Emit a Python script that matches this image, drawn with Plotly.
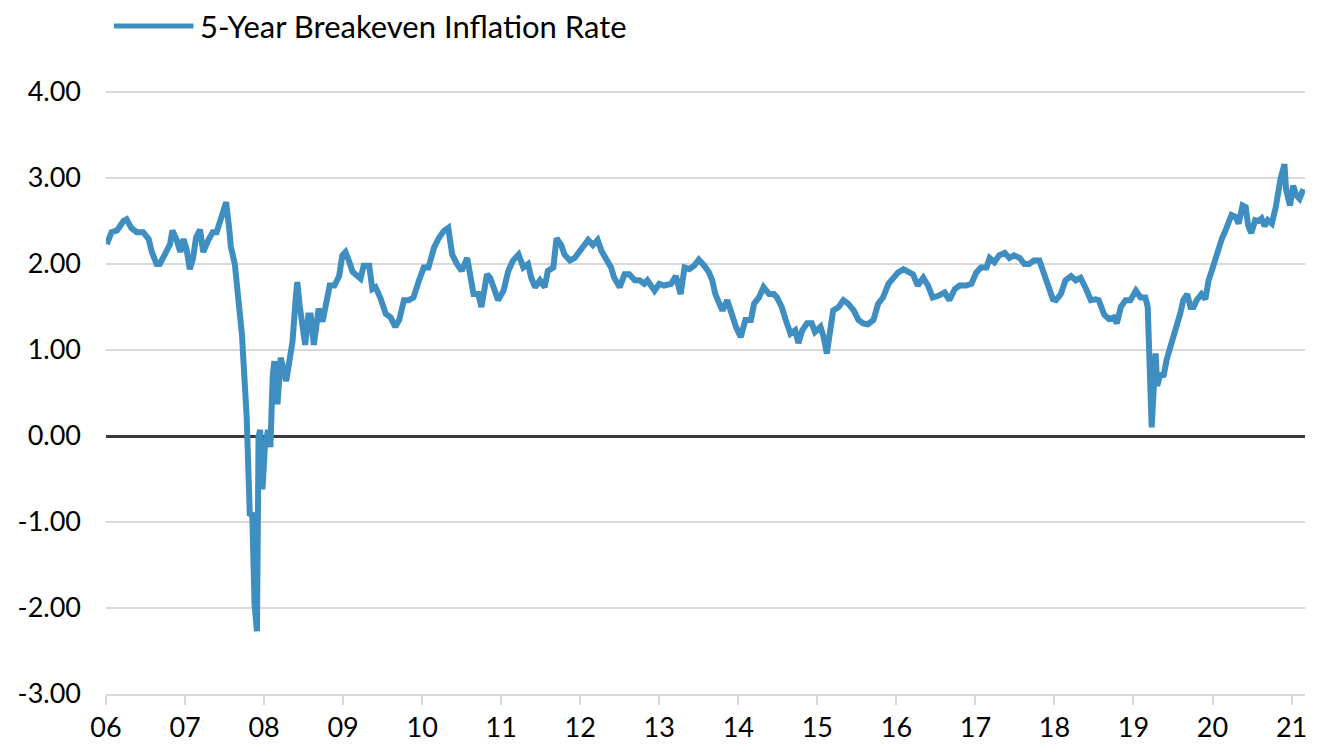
import plotly.graph_objects as go

# Decimal year positions (as labelled on the chart's axis) and 5-year breakeven values (%)
years = [
    2006.01, 2006.07, 2006.14, 2006.22, 2006.26, 2006.32, 2006.39, 2006.47, 2006.54, 2006.58,
    2006.64, 2006.68, 2006.75, 2006.81, 2006.84, 2006.89, 2006.94, 2006.98, 2007.02, 2007.06,
    2007.10, 2007.14, 2007.19, 2007.23, 2007.29, 2007.35, 2007.40, 2007.46, 2007.50, 2007.52,
    2007.56, 2007.58, 2007.63, 2007.66, 2007.69, 2007.72, 2007.75, 2007.78, 2007.82, 2007.85,
    2007.88, 2007.91, 2007.93, 2007.95, 2007.98, 2008.01, 2008.05, 2008.08, 2008.11, 2008.13,
    2008.17, 2008.21, 2008.28, 2008.32, 2008.36, 2008.40, 2008.42, 2008.45, 2008.49, 2008.52,
    2008.56, 2008.59, 2008.63, 2008.69, 2008.74, 2008.78, 2008.83, 2008.89, 2008.95, 2008.99,
    2009.03, 2009.08, 2009.12, 2009.18, 2009.22, 2009.26, 2009.33, 2009.37, 2009.41, 2009.47,
    2009.54, 2009.60, 2009.66, 2009.71, 2009.77, 2009.83, 2009.89, 2009.96, 2010.02, 2010.08,
    2010.15, 2010.21, 2010.27, 2010.33, 2010.38, 2010.44, 2010.50, 2010.57, 2010.61, 2010.65,
    2010.71, 2010.75, 2010.82, 2010.86, 2010.92, 2010.96, 2011.03, 2011.09, 2011.15, 2011.22,
    2011.28, 2011.34, 2011.38, 2011.43, 2011.49, 2011.55, 2011.59, 2011.66, 2011.70, 2011.76,
    2011.80, 2011.87, 2011.93, 2011.99, 2012.06, 2012.10, 2012.16, 2012.22, 2012.27, 2012.33,
    2012.39, 2012.43, 2012.50, 2012.56, 2012.62, 2012.69, 2012.75, 2012.81, 2012.85, 2012.94,
    2013.00, 2013.06, 2013.15, 2013.21, 2013.27, 2013.32, 2013.38, 2013.44, 2013.50, 2013.57,
    2013.63, 2013.67, 2013.71, 2013.76, 2013.80, 2013.86, 2013.90, 2013.97, 2014.03, 2014.09,
    2014.16, 2014.20, 2014.26, 2014.32, 2014.39, 2014.45, 2014.49, 2014.55, 2014.60, 2014.66,
    2014.72, 2014.76, 2014.81, 2014.87, 2014.93, 2014.97, 2015.04, 2015.08, 2015.12, 2015.16,
    2015.20, 2015.27, 2015.33, 2015.39, 2015.46, 2015.52, 2015.58, 2015.64, 2015.71, 2015.77,
    2015.83, 2015.90, 2015.96, 2016.02, 2016.09, 2016.15, 2016.21, 2016.27, 2016.34, 2016.40,
    2016.46, 2016.53, 2016.61, 2016.67, 2016.74, 2016.80, 2016.88, 2016.95, 2017.01, 2017.07,
    2017.14, 2017.18, 2017.24, 2017.30, 2017.37, 2017.43, 2017.49, 2017.56, 2017.62, 2017.68,
    2017.74, 2017.81, 2017.85, 2017.89, 2017.93, 2017.98, 2018.02, 2018.08, 2018.14, 2018.21,
    2018.27, 2018.33, 2018.40, 2018.46, 2018.52, 2018.56, 2018.63, 2018.69, 2018.75, 2018.79,
    2018.84, 2018.90, 2018.96, 2019.03, 2019.09, 2019.15, 2019.18, 2019.21, 2019.23, 2019.28,
    2019.30, 2019.34, 2019.38, 2019.42, 2019.47, 2019.51, 2019.55, 2019.59, 2019.63, 2019.68,
    2019.72, 2019.76, 2019.80, 2019.86, 2019.91, 2019.95, 2019.99, 2020.03, 2020.07, 2020.12,
    2020.16, 2020.20, 2020.24, 2020.29, 2020.33, 2020.38, 2020.42, 2020.45, 2020.49, 2020.54,
    2020.58, 2020.62, 2020.66, 2020.70, 2020.75, 2020.80, 2020.83, 2020.86, 2020.91, 2020.93,
    2020.98, 2021.02, 2021.06, 2021.10, 2021.15,
]

breakeven = [
    2.23, 2.37, 2.39, 2.50, 2.52, 2.42, 2.37, 2.37, 2.29, 2.14,
    2.00, 2.00, 2.12, 2.23, 2.39, 2.29, 2.14, 2.29, 2.17, 1.94,
    2.06, 2.31, 2.40, 2.14, 2.27, 2.37, 2.37, 2.52, 2.66, 2.72,
    2.40, 2.20, 2.00, 1.79, 1.45, 1.18, 0.64, 0.22, -0.93, -0.89,
    -1.97, -2.27, -0.01, 0.07, -0.62, -0.13, 0.07, -0.13, 0.71, 0.87,
    0.37, 0.91, 0.64, 0.94, 1.10, 1.60, 1.79, 1.52, 1.25, 1.06,
    1.40, 1.40, 1.06, 1.48, 1.33, 1.52, 1.75, 1.75, 1.86, 2.10,
    2.14, 2.02, 1.91, 1.86, 1.83, 1.98, 1.98, 1.71, 1.73, 1.61,
    1.42, 1.38, 1.27, 1.35, 1.58, 1.58, 1.61, 1.81, 1.96, 1.96,
    2.19, 2.30, 2.38, 2.42, 2.11, 2.00, 1.92, 2.07, 1.84, 1.65,
    1.65, 1.50, 1.88, 1.84, 1.69, 1.58, 1.69, 1.92, 2.04, 2.11,
    1.96, 2.00, 1.84, 1.73, 1.81, 1.73, 1.92, 1.96, 2.30, 2.22,
    2.11, 2.04, 2.07, 2.15, 2.22, 2.28, 2.22, 2.28, 2.15, 2.04,
    1.96, 1.84, 1.73, 1.88, 1.88, 1.81, 1.81, 1.77, 1.81, 1.69,
    1.77, 1.75, 1.77, 1.86, 1.65, 1.96, 1.94, 1.98, 2.05, 1.98,
    1.90, 1.81, 1.65, 1.54, 1.46, 1.58, 1.46, 1.27, 1.15, 1.35,
    1.35, 1.54, 1.61, 1.73, 1.65, 1.65, 1.61, 1.50, 1.35, 1.19,
    1.23, 1.08, 1.23, 1.31, 1.31, 1.21, 1.27, 1.15, 0.96, 1.23,
    1.46, 1.50, 1.58, 1.54, 1.46, 1.35, 1.31, 1.30, 1.35, 1.54,
    1.61, 1.77, 1.84, 1.90, 1.94, 1.90, 1.88, 1.75, 1.84, 1.75,
    1.61, 1.63, 1.67, 1.58, 1.71, 1.75, 1.75, 1.77, 1.90, 1.96,
    1.96, 2.07, 2.02, 2.10, 2.13, 2.07, 2.10, 2.07, 2.00, 2.00,
    2.04, 2.04, 1.94, 1.82, 1.73, 1.59, 1.58, 1.65, 1.81, 1.86,
    1.81, 1.84, 1.71, 1.58, 1.59, 1.58, 1.41, 1.36, 1.38, 1.31,
    1.50, 1.58, 1.58, 1.69, 1.61, 1.61, 1.50, 0.50, 0.10, 0.96,
    0.58, 0.73, 0.69, 0.89, 1.04, 1.19, 1.31, 1.42, 1.58, 1.65,
    1.50, 1.50, 1.58, 1.65, 1.59, 1.81, 1.92, 2.04, 2.17, 2.30,
    2.38, 2.50, 2.57, 2.55, 2.47, 2.68, 2.66, 2.45, 2.36, 2.51,
    2.50, 2.53, 2.44, 2.51, 2.47, 2.66, 2.84, 2.99, 3.16, 2.87,
    2.68, 2.91, 2.80, 2.76, 2.87,
]

x_tick_years = list(range(2006, 2022))
x_tick_labels = ["06", "07", "08", "09", "10", "11", "12", "13",
                 "14", "15", "16", "17", "18", "19", "20", "21"]
y_tick_values = [-3, -2, -1, 0, 1, 2, 3, 4]
y_tick_labels = ["-3.00", "-2.00", "-1.00", "0.00", "1.00", "2.00", "3.00", "4.00"]

series_name = "5-Year Breakeven Inflation Rate"
line_color = "#3E8EC2"
font_family = "Lato, 'Liberation Sans', sans-serif"

fig = go.Figure()
fig.add_trace(go.Scatter(
    x=years, y=breakeven, mode="lines", name=series_name,
    line=dict(color=line_color, width=6), showlegend=False,
))

# Legend drawn as a long sample line plus label (matches the reference's wide swatch)
fig.add_shape(type="line", xref="paper", yref="paper",
              x0=0.0066, x1=0.073, y0=1.108, y1=1.108,
              line=dict(color=line_color, width=5))
fig.add_annotation(xref="paper", yref="paper", x=0.0765, y=1.108,
                   text=series_name, showarrow=False, xanchor="left", yanchor="middle",
                   font=dict(family=font_family, size=31, color="#000000"))

# The page body adds an 8px offset, so the figure is sized/margined to compensate.
fig.update_layout(
    width=1309, height=745,
    margin=dict(l=94, r=10, t=83, b=50),
    paper_bgcolor="white", plot_bgcolor="white",
    font=dict(family=font_family, size=27, color="#000000"),
    xaxis=dict(
        range=[2006.0, 2021.17],
        tickmode="array", tickvals=x_tick_years, ticktext=x_tick_labels,
        showgrid=False, zeroline=False,
        showline=True, linecolor="#D9D9D9", linewidth=2,
        ticks="outside", ticklen=9, tickwidth=2, tickcolor="#D9D9D9",
        tickfont=dict(size=27, color="#000000"),
    ),
    yaxis=dict(
        range=[-3, 4.012],
        tickmode="array", tickvals=y_tick_values, ticktext=y_tick_labels,
        showgrid=True, gridcolor="#D9D9D9", gridwidth=2,
        zeroline=True, zerolinecolor="#3A3A3A", zerolinewidth=2.5,
        showline=False, ticks="", ticklabelstandoff=24,
        tickfont=dict(size=27, color="#000000"),
    ),
)

fig.write_html("out.html")
